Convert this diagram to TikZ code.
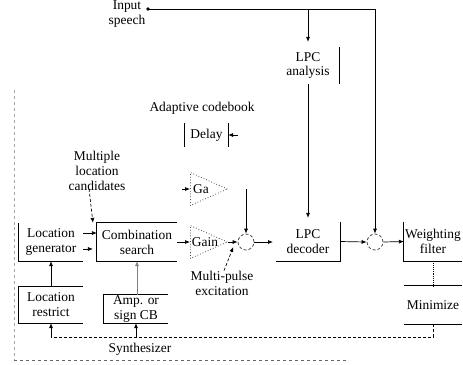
\documentclass[tikz,border=0pt]{standalone}
\usepackage{fontspec}
\setmainfont{Liberation Serif}
\usetikzlibrary{arrows.meta,shapes.geometric}

\tikzset{
  lbl/.style={font=\fontsize{13.5}{15}\selectfont, align=center, inner sep=0pt},
  blk/.style={lbl, minimum width=#1, minimum height=38},
  side/.style={line width=1bp},
  link/.style={line width=0.7bp, ->},
  gainamp/.style={isosceles triangle, isosceles triangle stretches, draw=gray!60!black, dotted, line width=0.8bp,
    minimum width=33, minimum height=37, inner sep=0pt, anchor=lower side},
  adder/.style={circle, draw=gray!60!black, densely dashed, line width=0.8bp, minimum size=16, inner sep=0pt},
}

\begin{document}
\begin{tikzpicture}[x=1bp, y=-1bp, >={Latex[length=5pt,width=4pt]}]
\useasboundingbox (0,0) rectangle (463,364);

% synthesizer frame
\draw[gray!70, dashed] (14,90) -- (14,360);
\draw[gray!80!black, dashed] (14,360) -- (346,360);
\node[lbl] (syn) at (140,349) {Synthesizer};

% input and analysis
\node[lbl] (inp) at (127,14) {Input\\speech};
\coordinate (in) at (148,9);
\fill (in) circle (1.8);
\node[blk=62, minimum height=37] (lpca) at (308,65.5) {LPC\\analysis};
\draw[side] (lpca.north east) -- (lpca.south east);

% blocks
\node[blk=64] (locg) at (51,242) {Location\\generator};
\node[blk=80] (comb) at (137,242) {Combination\\search};
\node[blk=64, minimum height=36] (locr) at (51,305) {Location\\restrict};
\node[blk=64, minimum height=28] (amp) at (136,309) {Amp. or\\sign CB};
\node[blk=43, minimum height=24] (dly) at (206.5,135) {Delay};
\node[blk=64, minimum height=39] (lpcd) at (308,241.5) {LPC\\decoder};
\node[blk=58, minimum height=39] (wf) at (433,241.5) {Weighting\\filter};
\node[blk=58] (mini) at (433,305) {Minimize};

\draw[side] (locg.north west) -- (locg.south west) -- (locg.south east);
\draw[side] (comb.north east) -- (comb.north west) -- (comb.south west) -- (comb.south east);
\draw[side] (locr.north east) -- (locr.north west) -- (locr.south west) -- (locr.south east);
\draw[side] (amp.north east) -- (amp.north west) -- (amp.south west) -- (amp.south east);
\draw[side] (dly.north west) -- (dly.south west);
\draw[side] (dly.north east) -- (dly.south east);
\draw[side] (lpcd.north east) -- (lpcd.south east) -- (lpcd.south west);
\draw[side] (wf.north west) -- (wf.south west) -- (wf.south east);
\draw[side] (mini.north west) -- (mini.north east);
\draw[side] (mini.south west) -- (mini.south east);

% gains and adders
\node[gainamp] (gA) at (190,189) {};
\node[lbl] (gAt) at (201,189) {Ga};
\node[gainamp] (gB) at (190,242) {};
\node[lbl] (gBt) at (205,242) {Gain};
\node[adder] (sum1) at (246,242) {};
\node[adder] (sum2) at (375,242) {};

% labels
\node[lbl] (acb) at (202,108) {Adaptive codebook};
\node[lbl] (mlc) at (97,171) {Multiple\\location\\candidates};
\node[lbl] (mpe) at (222,283) {Multi-pulse\\excitation};

% connectors
\coordinate (dlyin) at (238,135);
\coordinate (gAin) at (182,189);
\coordinate (gAout) at (gA.apex -| sum1);
\coordinate (sum1out) at (273,242);
\coordinate (fb) at (51,337);

\draw[link] (in) -| (sum2.north);
\draw[link, shorten >=5pt] (in -| lpca) -- (lpca.north);
\draw[link, shorten >=4pt] (lpca.south) -- (lpcd.north);
\draw[link] (dlyin) -- (dly.east);
\draw[link] (gAin) -- (gA.lower side);
\draw[link] (gAout) -- (sum1.north);
\draw[link] (comb.east) -- (gB.lower side);
\draw[link] (gB.apex) -- (sum1.west);
\draw[link] (sum1.east) -- (sum1out);
\draw[link] (lpcd.east) -- (sum2.west);
\draw[link] (sum2.east) -- (wf.west);
\draw[link] ([yshift=9pt]locg.east) -- ([yshift=9pt]comb.west);
\draw[link, shorten >=4pt] ([yshift=-7pt]locg.east) -- ([yshift=-7pt]comb.west);
\draw[link] (locr.north) -- (locg.south);
\draw[link, gray] (amp.north -| comb) -- (comb.south);
\draw[link, densely dashed] ([xshift=-8pt,yshift=2pt]mlc.south) -- ([xshift=-4pt]comb.north west);
\draw[link, densely dashed] ([xshift=2pt]mpe.north) -- ([xshift=5pt,yshift=-5pt]gB.apex);
\draw[densely dotted, line width=0.9bp] (wf.south) -- (mini.north);
\draw[densely dashed, line width=0.7bp] (mini.south) |- (fb);
\draw[link] (fb) -- (locr.south);
\draw[link] (fb -| amp) -- (amp.south);
\end{tikzpicture}
\end{document}
